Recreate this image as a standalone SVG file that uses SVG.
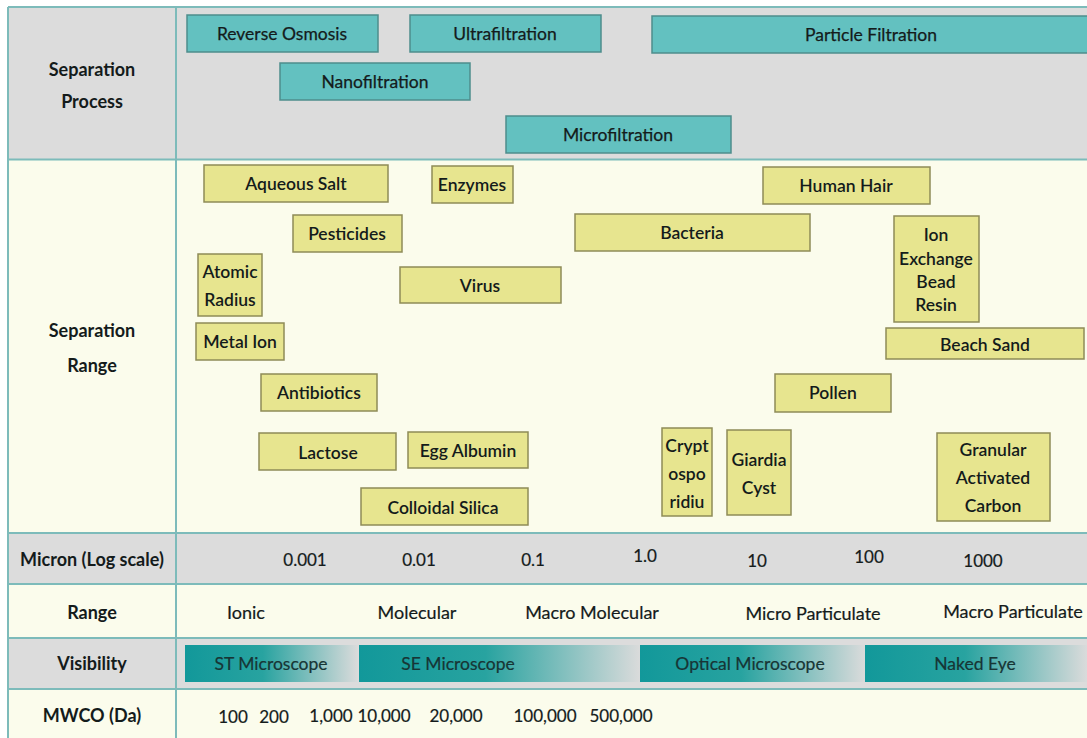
<svg xmlns="http://www.w3.org/2000/svg" width="1087" height="738" viewBox="0 0 1087 738">
<defs>
<linearGradient id="vis" x1="0" y1="0" x2="1" y2="0">
<stop offset="0" stop-color="#12989a"/>
<stop offset="0.45" stop-color="#28a3a0"/>
<stop offset="1" stop-color="#dadbdb"/>
</linearGradient>
<style>
text{font-family:Lato,"Open Sans","Liberation Sans",sans-serif;fill:#141b1b;text-anchor:middle}
.lbl{font-weight:700;font-size:18px}
.proc rect{fill:#63c1c0;stroke:#4e8d8c;stroke-width:1.5}
.proc text{font-size:17.5px;stroke:#141b1b;stroke-width:0.25}
.item rect{fill:#e7e58f;stroke:#8e8b57;stroke-width:1.5}
.item text{font-size:17.5px;font-weight:600}
.val{font-size:17px;stroke:#141b1b;stroke-width:0.2}
.rng{font-size:18px;stroke:#141b1b;stroke-width:0.2}
.vis rect{fill:url(#vis)}
.vis text{font-size:17.5px;fill:#173535;stroke:#173535;stroke-width:0.2}
.grid line{stroke:#7dbbba;stroke-width:2}
</style>
</defs>
<rect x="0" y="0" width="1087" height="738" fill="#ffffff"/>
<!-- row backgrounds -->
<rect x="8" y="7" width="1079" height="152" fill="#dcdcdc"/>
<rect x="8" y="159" width="1079" height="374" fill="#fbfcec"/>
<rect x="8" y="533" width="1079" height="51" fill="#dcdcdc"/>
<rect x="8" y="584" width="1079" height="54" fill="#fbfcec"/>
<rect x="8" y="638" width="1079" height="51" fill="#dcdcdc"/>
<rect x="8" y="689" width="1079" height="49" fill="#fbfcec"/>
<g class="grid">
<line x1="8" y1="7" x2="1087" y2="7"/>
<line x1="8" y1="159.5" x2="1087" y2="159.5"/>
<line x1="8" y1="533" x2="1087" y2="533"/>
<line x1="8" y1="584" x2="1087" y2="584"/>
<line x1="8" y1="638" x2="1087" y2="638"/>
<line x1="8" y1="689" x2="1087" y2="689"/>
<line x1="8" y1="7" x2="8" y2="738"/>
<line x1="176" y1="7" x2="176" y2="738"/>
</g>
<!-- row labels -->
<g id="row-labels">
<text class="lbl" x="92" y="76">Separation</text>
<text class="lbl" x="92" y="108">Process</text>
<text class="lbl" x="92" y="337">Separation</text>
<text class="lbl" x="92" y="372">Range</text>
<text class="lbl" x="92" y="566">Micron (Log scale)</text>
<text class="lbl" x="92" y="619">Range</text>
<text class="lbl" x="92" y="670">Visibility</text>
<text class="lbl" x="92" y="722">MWCO (Da)</text>
</g>
<!-- separation processes -->
<g id="reverse-osmosis" class="proc"><rect x="187" y="15" width="191" height="37"/><text x="282" y="40">Reverse Osmosis</text></g>
<g id="ultrafiltration" class="proc"><rect x="410" y="15" width="191" height="37"/><text x="505" y="40">Ultrafiltration</text></g>
<g id="particle-filtration" class="proc"><rect x="652" y="16" width="445" height="37"/><text x="871" y="41">Particle Filtration</text></g>
<g id="nanofiltration" class="proc"><rect x="280" y="63" width="190" height="37"/><text x="375" y="88">Nanofiltration</text></g>
<g id="microfiltration" class="proc"><rect x="506" y="116" width="225" height="37"/><text x="618" y="141">Microfiltration</text></g>
<!-- separation range items -->
<g id="aqueous-salt" class="item"><rect x="204" y="165" width="184" height="37"/><text x="296" y="190">Aqueous Salt</text></g>
<g id="enzymes" class="item"><rect x="432" y="166" width="81" height="37"/><text x="472" y="191">Enzymes</text></g>
<g id="pesticides" class="item"><rect x="293" y="215" width="109" height="37"/><text x="347" y="240">Pesticides</text></g>
<g id="atomic-radius" class="item"><rect x="198" y="254" width="64" height="62"/><text x="230" y="278">Atomic</text><text x="230" y="306">Radius</text></g>
<g id="virus" class="item"><rect x="400" y="267" width="161" height="36"/><text x="480" y="292">Virus</text></g>
<g id="metal-ion" class="item"><rect x="196" y="323" width="88" height="37"/><text x="240" y="348">Metal Ion</text></g>
<g id="antibiotics" class="item"><rect x="261" y="374" width="116" height="37"/><text x="319" y="399">Antibiotics</text></g>
<g id="lactose" class="item"><rect x="259" y="433" width="137" height="37"/><text x="328" y="459">Lactose</text></g>
<g id="egg-albumin" class="item"><rect x="408" y="432" width="120" height="36"/><text x="468" y="457">Egg Albumin</text></g>
<g id="colloidal-silica" class="item"><rect x="361" y="488" width="167" height="37"/><text x="443" y="514">Colloidal Silica</text></g>
<g id="human-hair" class="item"><rect x="763" y="167" width="167" height="37"/><text x="846" y="192">Human Hair</text></g>
<g id="bacteria" class="item"><rect x="575" y="214" width="235" height="37"/><text x="692" y="239">Bacteria</text></g>
<g id="ion-exchange" class="item"><rect x="894" y="216" width="85" height="106"/><text x="936" y="241">Ion</text><text x="936" y="265">Exchange</text><text x="936" y="288">Bead</text><text x="936" y="311">Resin</text></g>
<g id="beach-sand" class="item"><rect x="886" y="328" width="198" height="31"/><text x="985" y="351">Beach Sand</text></g>
<g id="pollen" class="item"><rect x="775" y="374" width="116" height="38"/><text x="833" y="399">Pollen</text></g>
<g id="cryptosporidium" class="item"><rect x="662" y="428" width="50" height="88"/><text x="687" y="452">Crypt</text><text x="687" y="480">ospo</text><text x="687" y="508">ridiu</text></g>
<g id="giardia-cyst" class="item"><rect x="727" y="430" width="64" height="85"/><text x="759" y="466">Giardia</text><text x="759" y="494">Cyst</text></g>
<g id="granular-carbon" class="item"><rect x="937" y="433" width="113" height="88"/><text x="993" y="456">Granular</text><text x="993" y="484">Activated</text><text x="993" y="512">Carbon</text></g>
<!-- micron scale -->
<g id="micron-values">
<text class="val" x="305" y="566">0.001</text>
<text class="val" x="419" y="566">0.01</text>
<text class="val" x="533" y="566">0.1</text>
<text class="val" x="645" y="562">1.0</text>
<text class="val" x="757" y="567">10</text>
<text class="val" x="869" y="563">100</text>
<text class="val" x="983" y="567">1000</text>
</g>
<!-- range -->
<g id="range-values">
<text class="rng" x="246" y="619">Ionic</text>
<text class="rng" x="417" y="619">Molecular</text>
<text class="rng" x="592" y="619">Macro Molecular</text>
<text class="rng" x="813" y="620">Micro Particulate</text>
<text class="rng" x="1013" y="618">Macro Particulate</text>
</g>
<!-- visibility -->
<g id="st-microscope" class="vis"><rect x="185" y="645" width="173" height="37"/><text x="271" y="670">ST Microscope</text></g>
<g id="se-microscope" class="vis"><rect x="359" y="645" width="281" height="37"/><text x="458" y="670">SE Microscope</text></g>
<g id="optical-microscope" class="vis"><rect x="640" y="645" width="225" height="37"/><text x="750" y="670">Optical Microscope</text></g>
<g id="naked-eye" class="vis"><rect x="865" y="645" width="222" height="37"/><text x="975" y="670">Naked Eye</text></g>
<!-- MWCO -->
<g id="mwco-values">
<text class="val" x="233" y="723">100</text>
<text class="val" x="274" y="723">200</text>
<text class="val" x="331" y="722">1,000</text>
<text class="val" x="384" y="722">10,000</text>
<text class="val" x="456" y="722">20,000</text>
<text class="val" x="545" y="722">100,000</text>
<text class="val" x="621" y="722">500,000</text>
</g>
</svg>
